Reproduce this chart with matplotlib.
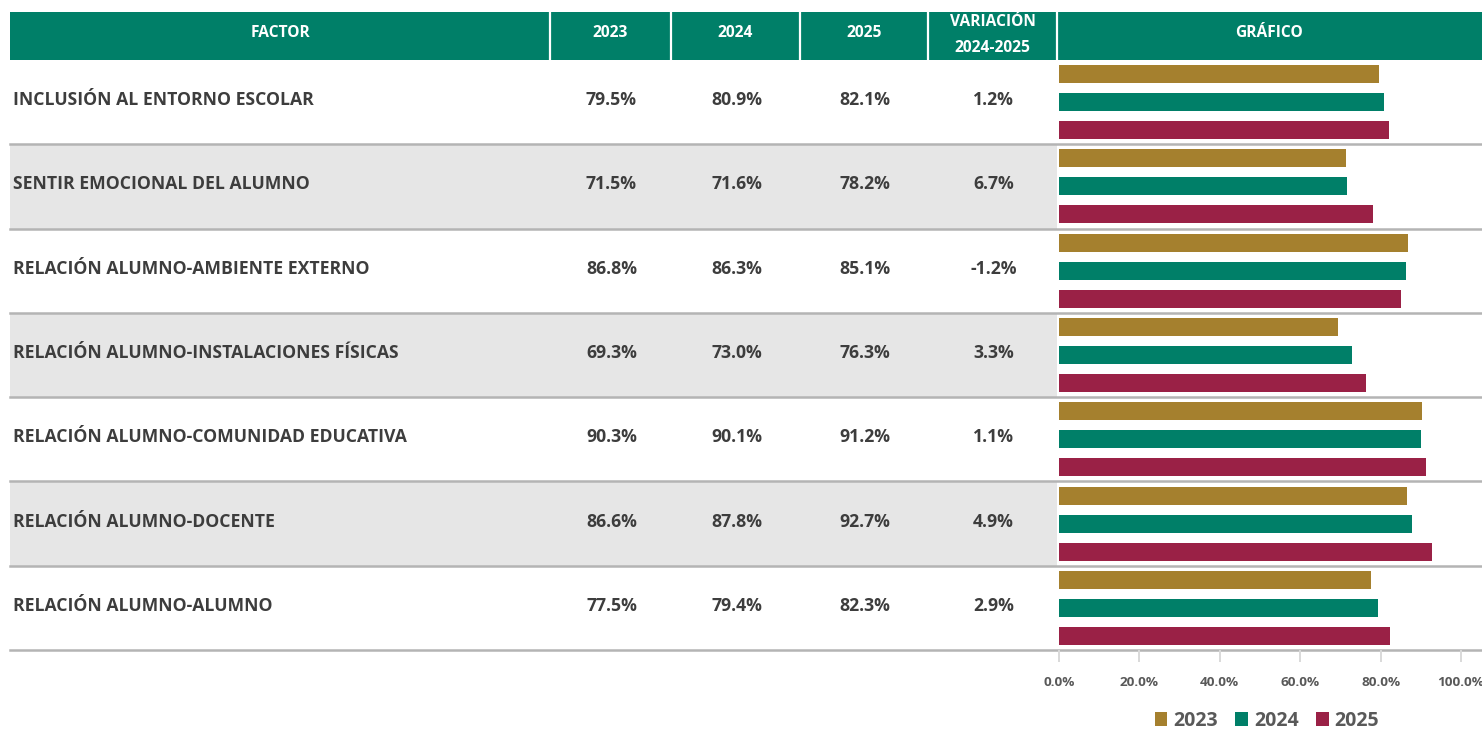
import numpy as np
import matplotlib
matplotlib.use("Agg")
import matplotlib.pyplot as plt
from matplotlib.patches import Rectangle

plt.rcParams['font.family'] = ['Open Sans', 'DejaVu Sans']

# ---- data ----
factors = [
    "INCLUSIÓN AL ENTORNO ESCOLAR",
    "SENTIR EMOCIONAL DEL ALUMNO",
    "RELACIÓN ALUMNO-AMBIENTE EXTERNO",
    "RELACIÓN ALUMNO-INSTALACIONES FÍSICAS",
    "RELACIÓN ALUMNO-COMUNIDAD EDUCATIVA",
    "RELACIÓN ALUMNO-DOCENTE",
    "RELACIÓN ALUMNO-ALUMNO",
]
v2023 = [79.5, 71.5, 86.8, 69.3, 90.3, 86.6, 77.5]
v2024 = [80.9, 71.6, 86.3, 73.0, 90.1, 87.8, 79.4]
v2025 = [82.1, 78.2, 85.1, 76.3, 91.2, 92.7, 82.3]
variation = [1.2, 6.7, -1.2, 3.3, 1.1, 4.9, 2.9]
years = ["2023", "2024", "2025"]
headers = ["FACTOR", "2023", "2024", "2025", "VARIACIÓN\n2024-2025", "GRÁFICO"]
xticks = [0, 20, 40, 60, 80, 100]

# ---- style ----
C_GOLD = "#a5802e"
C_GREEN = "#007f68"
C_WINE = "#9a2146"
C_TEXT = "#3d3d3d"
C_AXIS = "#595959"
C_ROWBG = "#e6e6e6"
C_RULE = "#b4b4b4"

W, H = 1482, 730
fig = plt.figure(figsize=(W / 100, H / 100), dpi=100)

# table layer in pixel coordinates
bg = fig.add_axes([0, 0, 1, 1])
bg.set_xlim(0, W)
bg.set_ylim(H, 0)
bg.axis("off")

left, right = 10, W
head_top, head_bot = 12, 60
table_bot = 650
col_edges = [10, 550, 671, 800, 928, 1057, W]
n = len(factors)
row_h = (table_bot - head_bot) / n

# header band
bg.add_patch(Rectangle((left, head_top), right - left, head_bot - head_top,
                       facecolor=C_GREEN, edgecolor="none", zorder=1))
for x in col_edges[1:-1]:
    bg.plot([x, x], [head_top, head_bot], color="white", lw=1.6, zorder=2)
hdr_kw = dict(ha="center", va="center", color="white", fontsize=11.2,
              fontweight="bold", zorder=3)
for i, h in enumerate(headers):
    cx = (col_edges[i] + col_edges[i + 1]) / 2
    if "\n" in h:
        a, b = h.split("\n")
        bg.text(cx, 22, a, **hdr_kw)
        bg.text(cx, 48.5, b, **hdr_kw)
    else:
        bg.text(cx, 33, h, **hdr_kw)

# body rows
col_centers = [(col_edges[i] + col_edges[i + 1]) / 2 for i in range(1, 5)]
for i in range(n):
    y0 = head_bot + i * row_h
    yc = y0 + row_h / 2 - 2
    if i % 2 == 1:
        bg.add_patch(Rectangle((left, y0), col_edges[5] - left, row_h,
                               facecolor=C_ROWBG, edgecolor="none", zorder=0))
    bg.text(13, yc, factors[i], ha="left", va="center", color=C_TEXT,
            fontsize=12.7, fontweight="bold")
    vals = [f"{v2023[i]:.1f}%", f"{v2024[i]:.1f}%", f"{v2025[i]:.1f}%",
            f"{variation[i]:.1f}%"]
    for cx, s in zip(col_centers, vals):
        bg.text(cx + 1, yc, s, ha="center", va="center", color=C_TEXT,
                fontsize=12.7, fontweight="bold")
    bg.plot([left, right], [y0 + row_h, y0 + row_h], color=C_RULE, lw=1.8,
            zorder=2)

# bar chart layer
x0_px, x100_px = 1059, 1461
ax = fig.add_axes([x0_px / W, 1 - table_bot / H,
                   (x100_px - x0_px) / W, (table_bot - head_bot) / H])
ax.patch.set_alpha(0)
ax.set_xlim(0, 100)
ax.set_ylim(n, 0)
centers = np.arange(n) + 0.5
off = 28 / row_h
bh = 18 / row_h
for k, (vals, col, lab) in enumerate(zip([v2023, v2024, v2025],
                                         [C_GOLD, C_GREEN, C_WINE], years)):
    ax.barh(centers + (k - 1) * off, vals, height=bh, color=col, label=lab,
            zorder=3)
for s in ax.spines.values():
    s.set_visible(False)
ax.set_yticks([])
ax.set_xticks(xticks)
ax.set_xticklabels([f"{t:.1f}%" for t in xticks])
ax.tick_params(axis="x", length=8.5, width=1.4, color="#d9d9d9", pad=10,
               labelsize=9.7, labelcolor=C_AXIS)
for lbl in ax.get_xticklabels():
    lbl.set_fontweight("bold")

leg = ax.legend(loc="center", bbox_to_anchor=(1267 / W, 1 - 721 / H),
                bbox_transform=fig.transFigure, ncol=3, frameon=False,
                handlelength=0.65, handleheight=0.7, handletextpad=0.3,
                columnspacing=0.9, borderaxespad=0,
                prop={"size": 14, "weight": "bold"})
for t in leg.get_texts():
    t.set_color(C_AXIS)

fig.savefig("out.png", dpi=100)
